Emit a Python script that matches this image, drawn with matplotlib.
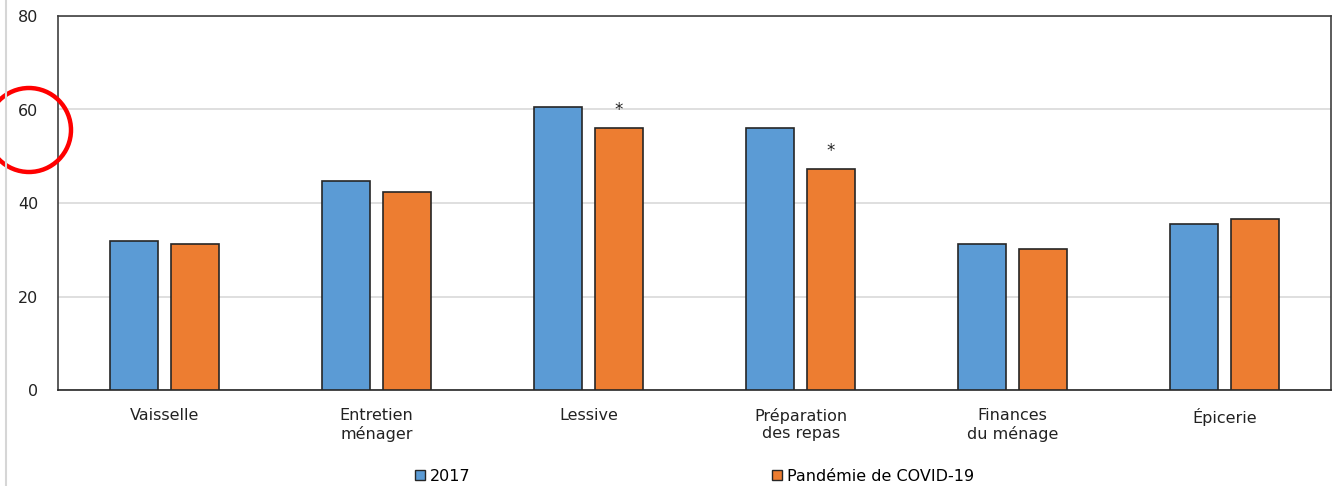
import matplotlib
matplotlib.use("Agg")
import matplotlib.pyplot as plt
from matplotlib.patches import Circle, Patch
import numpy as np

categories = ["Vaisselle", "Entretien\nménager", "Lessive", "Préparation\ndes repas",
              "Finances\ndu ménage", "Épicerie"]
val_2017 = [31.9, 44.7, 60.5, 56.0, 31.2, 35.5]
val_covid = [31.2, 42.4, 56.0, 47.3, 30.2, 36.6]
signif = [False, False, True, True, False, False]  # * shown above the COVID bar
series_names = ["2017", "Pandémie de COVID-19"]

blue = "#5b9bd5"
orange = "#ed7d31"
edge = "#262626"
fs = 11.5

plt.rcParams["font.family"] = ["DejaVu Sans"]
plt.rcParams["font.size"] = fs

fig = plt.figure(figsize=(13.32, 4.86), dpi=100)
ax = fig.add_axes([58 / 1332, 1 - 390 / 486, 1273 / 1332, 374 / 486])

x = np.arange(len(categories))
w = 0.226
off = 0.144
ax.bar(x - off, val_2017, w, color=blue, edgecolor=edge, linewidth=1.2, zorder=3)
ax.bar(x + off, val_covid, w, color=orange, edgecolor=edge, linewidth=1.2, zorder=3)
for i, s in enumerate(signif):
    if s:
        ax.text(x[i] + off, val_covid[i] + 2.0, "*", ha="center", va="bottom",
                fontsize=12, color="#222222")

ax.set_xlim(-0.5, len(categories) - 0.5)
ax.set_ylim(0, 80)
ax.set_yticks([0, 20, 40, 60, 80])
ax.set_xticks(x)
ax.set_xticklabels(categories, color="#222222", linespacing=1.2)
ax.tick_params(axis="both", length=0, colors="#222222", labelsize=fs)
ax.tick_params(axis="y", pad=14)
ax.tick_params(axis="x", pad=13)
ax.grid(axis="y", color="#d9d9d9", linewidth=1.2, zorder=0)
for side in ["top", "right", "left", "bottom"]:
    ax.spines[side].set_color("#404040")
    ax.spines[side].set_linewidth(1.2)
ax.spines["bottom"].set_color("#262626")

# gray vertical rule at the far left
fig.add_artist(plt.Line2D([6 / 1332, 6 / 1332], [0, 1], color="#d6d6d6", linewidth=1.5))

# red circle around the 60 label
fig.add_artist(Circle((29, 486 - 130), 42, transform=None, fill=False,
                      edgecolor="#ff0000", linewidth=3.2))

# legend entries, one per series
colors = [blue, orange]
lx = [415, 772]
for name, c, px in zip(series_names, colors, lx):
    h = Patch(facecolor=c, edgecolor=edge, linewidth=1)
    fig.legend([h], [name], loc="center left", bbox_to_anchor=(px / 1332, 1 - 476 / 486),
               frameon=False, handlelength=0.65, handleheight=0.65, handletextpad=0.3,
               borderpad=0, borderaxespad=0, fontsize=fs)

fig.savefig("out.png", dpi=100)
